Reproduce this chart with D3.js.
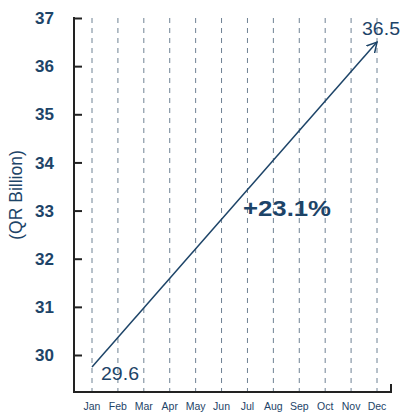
<!DOCTYPE html>
<html>
<head>
<meta charset="utf-8">
<script src="https://cdn.jsdelivr.net/npm/d3@7"></script>
<style>
  body { margin: 0; background: #fff; }
  svg text { font-family: "Liberation Sans", Arial, sans-serif; }
</style>
</head>
<body>
<div id="chart"></div>
<script>
var months = ['Jan','Feb','Mar','Apr','May','Jun','Jul','Aug','Sep','Oct','Nov','Dec'];
var yTicks = [30, 31, 32, 33, 34, 35, 36, 37];
var startValue = 29.6, endValue = 36.5;
// the arrow tail sits a little above the labelled value in the picture
var arrowStart = 29.75;
var growthLabel = '+23.1%';

var width = 401, height = 414,
    navy = '#1d4468';

var x = d3.scalePoint()
    .domain( months )
    .range([ 92, 377 ]);

var y = d3.scaleLinear()
    .domain([ 30, 37 ])
    .range([ 355, 18 ]);

var svg = d3.select('#chart').append('svg')
    .attr('width', width)
    .attr('height', height);

// arrow head marker
svg.append('defs').append('marker')
    .attr('id', 'head')
    .attr('viewBox', '-10 -6 12 12')
    .attr('refX', 0).attr('refY', 0)
    .attr('markerWidth', 12).attr('markerHeight', 12)
    .attr('markerUnits', 'userSpaceOnUse')
    .attr('orient', 'auto')
  .append('path')
    .attr('d', 'M-10,-5.5L0,0L-10,5.5')
    .attr('fill', 'none')
    .attr('stroke', navy)
    .attr('stroke-width', 1.5);

// dashed month lines
svg.append('g')
    .selectAll('line').data( months ).enter()
  .append('line')
    .attr('x1', d => x(d)).attr('x2', d => x(d))
    .attr('y1', 18).attr('y2', 391)
    .attr('stroke', '#6f8294')
    .attr('stroke-width', 1)
    .attr('stroke-dasharray', '5,5');

// y axis
var yAxis = svg.append('g')
    .attr('transform', 'translate(74,0)')
    .call( d3.axisRight(y).tickValues(yTicks).tickSize(8).tickFormat('') );
yAxis.select('.domain').remove();
yAxis.selectAll('.tick line').attr('stroke', '#222').attr('stroke-width', 2);

svg.append('line')
    .attr('x1', 74).attr('x2', 74)
    .attr('y1', 17).attr('y2', 392)
    .attr('stroke', '#222').attr('stroke-width', 2);

svg.append('g')
    .selectAll('text').data( yTicks ).enter()
  .append('text')
    .attr('x', 54)
    .attr('y', d => y(d))
    .attr('dy', '.36em')
    .attr('text-anchor', 'end')
    .attr('font-size', 17)
    .attr('font-weight', 'bold')
    .attr('fill', navy)
    .text( String );

// x axis
svg.append('path')
    .attr('d', 'M73,392H391V384')
    .attr('fill', 'none')
    .attr('stroke', '#222')
    .attr('stroke-width', 2);

svg.append('g')
    .selectAll('text').data( months ).enter()
  .append('text')
    .attr('x', d => x(d))
    .attr('y', 410)
    .attr('text-anchor', 'middle')
    .attr('font-size', 10.5)
    .attr('fill', navy)
    .text( String );

svg.append('text')
    .attr('transform', 'translate(22,195) rotate(-90)')
    .attr('text-anchor', 'middle')
    .attr('font-size', 17.5)
    .attr('fill', navy)
    .text('(QR Billion)');

// growth arrow
svg.append('line')
    .attr('x1', x('Jan')).attr('y1', y(arrowStart))
    .attr('x2', x('Dec')).attr('y2', y(endValue))
    .attr('stroke', navy)
    .attr('stroke-width', 1.5)
    .attr('marker-end', 'url(#head)');

svg.append('text')
    .attr('x', 101).attr('y', 380)
    .attr('font-size', 18)
    .attr('textLength', 38)
    .attr('lengthAdjust', 'spacingAndGlyphs')
    .attr('fill', navy)
    .text( startValue.toFixed(1) );

svg.append('text')
    .attr('x', 362).attr('y', 35)
    .attr('font-size', 18)
    .attr('textLength', 38)
    .attr('lengthAdjust', 'spacingAndGlyphs')
    .attr('fill', navy)
    .text( endValue.toFixed(1) );

svg.append('text')
    .attr('x', 243).attr('y', 216)
    .attr('font-size', 22)
    .attr('font-weight', 'bold')
    .attr('textLength', 88)
    .attr('lengthAdjust', 'spacingAndGlyphs')
    .attr('fill', navy)
    .text( growthLabel );
</script>
</body>
</html>
